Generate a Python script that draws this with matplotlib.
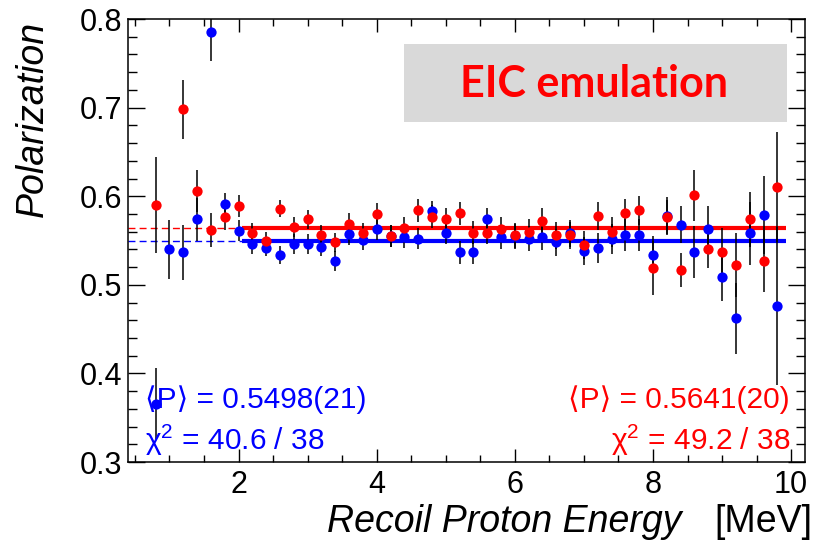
import numpy as np
import matplotlib
matplotlib.use('Agg')
import matplotlib.pyplot as plt
from matplotlib.ticker import MultipleLocator

# recoil proton energy bins [MeV]
energy = [0.8, 1.0, 1.2, 1.4, 1.6, 1.8, 2.0, 2.2, 2.4, 2.6,
          2.8, 3.0, 3.2, 3.4, 3.6, 3.8, 4.0, 4.2, 4.4, 4.6,
          4.8, 5.0, 5.2, 5.4, 5.6, 5.8, 6.0, 6.2, 6.4, 6.6,
          6.8, 7.0, 7.2, 7.4, 7.6, 7.8, 8.0, 8.2, 8.4, 8.6,
          8.8, 9.0, 9.2, 9.4, 9.6, 9.8]

# blue data set
p_blue = [0.366, 0.540, 0.537, 0.574, 0.785, 0.591, 0.561, 0.546, 0.542, 0.534,
          0.546, 0.546, 0.543, 0.527, 0.557, 0.551, 0.563, 0.555, 0.554, 0.552,
          0.583, 0.559, 0.537, 0.537, 0.574, 0.554, 0.555, 0.552, 0.554, 0.548,
          0.558, 0.538, 0.542, 0.552, 0.556, 0.556, 0.534, 0.578, 0.568, 0.537,
          0.563, 0.509, 0.462, 0.558, 0.579, 0.476]
e_blue = [0.040, 0.033, 0.031, 0.024, 0.032, 0.013, 0.012, 0.011, 0.010, 0.010,
          0.011, 0.011, 0.011, 0.011, 0.012, 0.012, 0.012, 0.012, 0.012, 0.012,
          0.012, 0.013, 0.013, 0.013, 0.013, 0.013, 0.014, 0.014, 0.015, 0.015,
          0.015, 0.016, 0.017, 0.017, 0.018, 0.018, 0.021, 0.021, 0.021, 0.029,
          0.026, 0.027, 0.040, 0.036, 0.044, 0.089]

# red data set (no point in the 1.0 MeV bin)
p_red = [0.590, np.nan, 0.698, 0.606, 0.562, 0.576, 0.589, 0.559, 0.550, 0.586,
         0.565, 0.574, 0.556, 0.548, 0.569, 0.558, 0.580, 0.555, 0.564, 0.584,
         0.577, 0.574, 0.581, 0.559, 0.559, 0.563, 0.556, 0.560, 0.572, 0.556,
         0.556, 0.545, 0.578, 0.560, 0.581, 0.584, 0.519, 0.576, 0.517, 0.601,
         0.541, 0.537, 0.522, 0.574, 0.527, 0.610]
e_red = [0.054, np.nan, 0.033, 0.024, 0.019, 0.014, 0.012, 0.011, 0.010, 0.010,
         0.011, 0.011, 0.011, 0.011, 0.012, 0.012, 0.012, 0.012, 0.012, 0.013,
         0.013, 0.013, 0.013, 0.013, 0.013, 0.014, 0.014, 0.014, 0.015, 0.015,
         0.015, 0.016, 0.016, 0.017, 0.016, 0.016, 0.030, 0.020, 0.019, 0.029,
         0.022, 0.027, 0.036, 0.031, 0.035, 0.062]

fit_blue = 0.5498
fit_red = 0.5641
fit_range = [2.05, 9.92]

plt.rcParams['font.family'] = ['Liberation Sans', 'DejaVu Sans']
plt.rcParams['mathtext.fontset'] = 'custom'
plt.rcParams['mathtext.rm'] = 'Liberation Sans'

fig = plt.figure(figsize=(8.19, 5.44), dpi=100)
ax = fig.add_axes([0.1563, 0.1507, 0.9829 - 0.1563, 0.965 - 0.1507])

xmin, xmax = 0.4, 10.2
ax.set_xlim(xmin, xmax)
ax.set_ylim(0.3, 0.8)

# fits: dashed outside the fit range, solid inside
ax.plot([xmin, fit_range[0]], [fit_blue, fit_blue], color='b', lw=1.0, ls=(0, (5, 3)), zorder=2)
ax.plot([xmin, fit_range[0]], [fit_red, fit_red], color='r', lw=1.0, ls=(0, (5, 3)), zorder=2)
ax.plot(fit_range, [fit_blue, fit_blue], color='b', lw=3.0, solid_capstyle='butt', zorder=2)
ax.plot(fit_range, [fit_red, fit_red], color='r', lw=3.0, solid_capstyle='butt', zorder=2)

ax.errorbar(energy, p_blue, yerr=e_blue, fmt='none', ecolor='k', elinewidth=1.1, capsize=0, zorder=3)
ax.errorbar(energy, p_red, yerr=e_red, fmt='none', ecolor='k', elinewidth=1.1, capsize=0, zorder=3)
ax.plot(energy, p_blue, 'o', color='b', ms=7.4, mec='none', zorder=4)
ax.plot(energy, p_red, 'o', color='r', ms=7.4, mec='none', zorder=5)

ax.xaxis.set_major_locator(MultipleLocator(2))
ax.xaxis.set_minor_locator(MultipleLocator(0.5))
ax.yaxis.set_major_locator(MultipleLocator(0.1))
ax.yaxis.set_minor_locator(MultipleLocator(0.02))
ax.tick_params(which='both', direction='in', top=True, right=True, width=1.0, labelsize=22)
ax.tick_params(axis='x', which='major', length=9.5, pad=6)
ax.tick_params(axis='x', which='minor', length=4.7)
ax.tick_params(axis='y', which='major', length=12.5, pad=4)
ax.tick_params(axis='y', which='minor', length=6.2)
ax.yaxis.set_major_formatter(plt.FuncFormatter(lambda v, p: '%.1f' % v))
for s in ax.spines.values():
    s.set_linewidth(1.1)

fig.text(0.040, 0.962, 'Polarization', rotation=90, ha='center', va='top',
         fontsize=27, style='italic')
fig.text(0.832, 1 - 532 / 544, 'Recoil Proton Energy', ha='right', va='baseline',
         fontsize=27, style='italic')
fig.text(0.992, 1 - 532 / 544, '[MeV]', ha='right', va='baseline', fontsize=27)

# fit results
ax.text(0.025, 0.14, '\u27e8P\u27e9 = 0.5498(21)', color='b', fontsize=21.5,
        ha='left', va='center', transform=ax.transAxes, zorder=6)
ax.text(0.025, 0.05, '\u03c7$^{2}$ = 40.6 / 38', color='b', fontsize=21.5,
        ha='left', va='center', transform=ax.transAxes, zorder=6)
ax.text(0.978, 0.14, '\u27e8P\u27e9 = 0.5641(20)', color='r', fontsize=21.5,
        ha='right', va='center', transform=ax.transAxes, zorder=6)
ax.text(0.978, 0.05, '\u03c7$^{2}$ = 49.2 / 38', color='r', fontsize=21.5,
        ha='right', va='center', transform=ax.transAxes, zorder=6)

# label box
fig.patches.append(plt.Rectangle((404 / 819, 1 - 122 / 544), (787 - 404) / 819, (122 - 44) / 544,
                                 transform=fig.transFigure, facecolor='#d9d9d9', edgecolor='none', zorder=6))
fig.text(594 / 819, 1 - 84 / 544, 'EIC emulation', color='r', fontsize=31, fontweight='bold',
         family='Lato', ha='center', va='center', zorder=7)

fig.savefig('out.png', dpi=100)
